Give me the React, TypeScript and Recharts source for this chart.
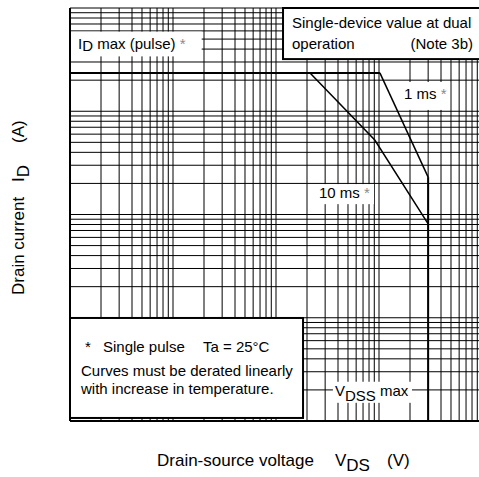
import React from "react";
import {
  ComposedChart,
  Line,
  XAxis,
  YAxis,
  ReferenceLine,
  ReferenceArea,
} from "recharts";

const FONT = "'Liberation Sans', Arial, Helvetica, sans-serif";

// log grid: decades x mantissas
const mantissas = [1, 2, 3, 4, 5, 6, 7, 8, 9];
const xDecades = [0.01, 0.1, 1, 10];
const yDecades = [0.001, 0.01, 0.1, 1];
const xMax = 100;
const yMax = 10;
const xTicks = [...xDecades.flatMap((d) => mantissas.map((m) => +(d * m).toPrecision(3))), xMax];
const yTicks = [...yDecades.flatMap((d) => mantissas.map((m) => +(d * m).toPrecision(3))), yMax];

// Series (V_DS in V, I_D in A)
const idPulseLine = [
  { x: 0.01, y: 2.35 },
  { x: 10.2, y: 2.35 },
];
const oneMsLine = [
  { x: 10.2, y: 2.35 },
  { x: 30, y: 0.23 },
];
const vdssLine = [
  { x: 30, y: 0.23 },
  { x: 30, y: 0.001 },
];
const tenMsLine = [
  { x: 2.14, y: 2.35 },
  { x: 9.1, y: 0.527 },
  { x: 30, y: 0.081 },
];

// annotation boxes (data units)
const idLabelBox = { x1: 0.01, x2: 0.19, y1: 3.4, y2: 5.9 };
const noteBox = { x1: 1.17, x2: 100, y1: 3.2, y2: 10 };
const oneMsBox = { x1: 15.3, x2: 49, y1: 1.03, y2: 1.92 };
const tenMsBox = { x1: 2.44, x2: 8.94, y1: 0.126, y2: 0.197 };
const vdssBox = { x1: 3.57, x2: 20.9, y1: 0.0015, y2: 0.0024 };
const pulseBox = { x1: 0.01, x2: 1.83, y1: 0.00107, y2: 0.00995 };

const txt = { fontFamily: FONT, fontSize: 15, fill: "#000", whiteSpace: "pre" } as any;
const star = "#8a8a8a";

const makeShape =
  (bordered: boolean, render: (x: number, y: number, w: number, h: number) => React.ReactNode) =>
  (p: any) => (
    <g>
      <rect
        x={p.x}
        y={p.y}
        width={p.width}
        height={p.height}
        fill="#fff"
        stroke={bordered ? "#000" : "none"}
        strokeWidth={bordered ? 2 : 0}
      />
      {render(p.x, p.y, p.width, p.height)}
    </g>
  );

const XLabel = (props: any) => {
  const vb = props.viewBox || { x: 70, y: 421 };
  const y = vb.y + 45;
  return (
    <text style={{ ...txt, fontSize: 17 }} fontFamily={FONT} fontSize={17} y={y}>
      <tspan x={vb.x + 87}>Drain-source voltage</tspan>
      <tspan x={vb.x + 265}>V</tspan>
      <tspan dy={5}>DS</tspan>
      <tspan x={vb.x + 317} dy={-5}>(V)</tspan>
    </text>
  );
};

const YLabel = (props: any) => {
  const vb = props.viewBox || { x: 0, y: 8 };
  const ox = vb.x + 24;
  const oy = vb.y + 287;
  return (
    <g transform={`translate(${ox},${oy}) rotate(-90)`}>
      <text style={{ ...txt, fontSize: 17 }} fontFamily={FONT} fontSize={17} y={0}>
        <tspan x={0}>Drain current</tspan>
        <tspan x={113}>I</tspan>
        <tspan dy={5}>D</tspan>
        <tspan x={152} dy={-5}>(A)</tspan>
      </text>
    </g>
  );
};

const gridProps = { stroke: "#000", strokeWidth: 1, ifOverflow: "visible" as const, zIndex: -50 } as any;
const areaZ = { zIndex: 150 } as any;

export default function App() {
  return (
    <div
      style={{
        position: "absolute",
        left: 0,
        top: 0,
        width: 479,
        height: 477,
        overflow: "hidden",
        background: "#fff",
      }}
    >
      <ComposedChart width={500} height={477} margin={{ top: 8, right: 18, bottom: 0, left: 0 }}>
        <XAxis
          type="number"
          dataKey="x"
          scale="log"
          domain={[0.01, xMax]}
          ticks={xTicks}
          allowDataOverflow
          tick={false}
          tickLine={false}
          axisLine={{ stroke: "#000", strokeWidth: 2 }}
          height={56}
          label={(p: any) => <XLabel {...p} />}
        />
        <YAxis
          type="number"
          dataKey="y"
          scale="log"
          domain={[0.001, yMax]}
          ticks={yTicks}
          allowDataOverflow
          tick={false}
          tickLine={false}
          axisLine={{ stroke: "#000", strokeWidth: 2 }}
          width={70}
          label={(p: any) => <YLabel {...p} />}
        />
        {xTicks.map((v) => (
          <ReferenceLine key={"gx" + v} x={v} {...gridProps} />
        ))}
        {yTicks.map((v) => (
          <ReferenceLine key={"gy" + v} y={v} {...gridProps} />
        ))}
        <ReferenceArea
          {...idLabelBox}
          {...areaZ}
          ifOverflow="visible"
          shape={makeShape(false, (x, y) => (
            <text style={txt} x={x + 8} y={y + 17}>
              <tspan>I</tspan>
              <tspan dy={2}>D</tspan>
              <tspan dy={-2}> max (pulse) </tspan>
              <tspan fill={star}>*</tspan>
            </text>
          ))}
        />
        <ReferenceArea
          {...noteBox}
          {...areaZ}
          ifOverflow="visible"
          shape={makeShape(true, (x, y) => (
            <g>
              <text style={txt} x={x + 9} y={y + 20}>
                Single-device value at dual
              </text>
              <text style={txt} x={x + 9} y={y + 41}>
                operation
              </text>
              <text style={txt} x={x + 190} y={y + 41} textAnchor="end">
                (Note 3b)
              </text>
            </g>
          ))}
        />
        <ReferenceArea
          {...oneMsBox}
          {...areaZ}
          ifOverflow="visible"
          shape={makeShape(false, (x, y) => (
            <text style={txt} x={x + 6} y={y + 17}>
              <tspan>1 ms </tspan>
              <tspan fill={star}>*</tspan>
            </text>
          ))}
        />
        <ReferenceArea
          {...tenMsBox}
          {...areaZ}
          ifOverflow="visible"
          shape={makeShape(false, (x, y) => (
            <text style={txt} x={x + 3} y={y + 14}>
              <tspan>10 ms </tspan>
              <tspan fill={star}>*</tspan>
            </text>
          ))}
        />
        <ReferenceArea
          {...vdssBox}
          {...areaZ}
          ifOverflow="visible"
          shape={makeShape(false, (x, y) => (
            <text style={txt} x={x + 2} y={y + 14}>
              <tspan>V</tspan>
              <tspan dy={5}>DSS</tspan>
              <tspan dy={-5}> max</tspan>
            </text>
          ))}
        />
        <ReferenceArea
          {...pulseBox}
          {...areaZ}
          ifOverflow="visible"
          shape={makeShape(true, (x, y) => (
            <g>
              <text style={txt} x={x + 15} y={y + 34} fill={star}>
                *
              </text>
              <text style={txt} x={x + 33} y={y + 34}>
                Single pulse
              </text>
              <text style={txt} x={x + 133} y={y + 34}>
                Ta = 25°C
              </text>
              <text style={txt} x={x + 11} y={y + 58}>
                Curves must be derated linearly
              </text>
              <text style={txt} x={x + 11} y={y + 76}>
                with increase in temperature.
              </text>
            </g>
          ))}
        />
        <Line data={idPulseLine} dataKey="y" stroke="#000" strokeWidth={2} dot={false} isAnimationActive={false} />
        <Line data={oneMsLine} dataKey="y" stroke="#000" strokeWidth={1.5} dot={false} isAnimationActive={false} />
        <Line data={vdssLine} dataKey="y" stroke="#000" strokeWidth={2} dot={false} isAnimationActive={false} />
        <Line data={tenMsLine} dataKey="y" stroke="#000" strokeWidth={1.5} dot={false} isAnimationActive={false} />
      </ComposedChart>
    </div>
  );
}
